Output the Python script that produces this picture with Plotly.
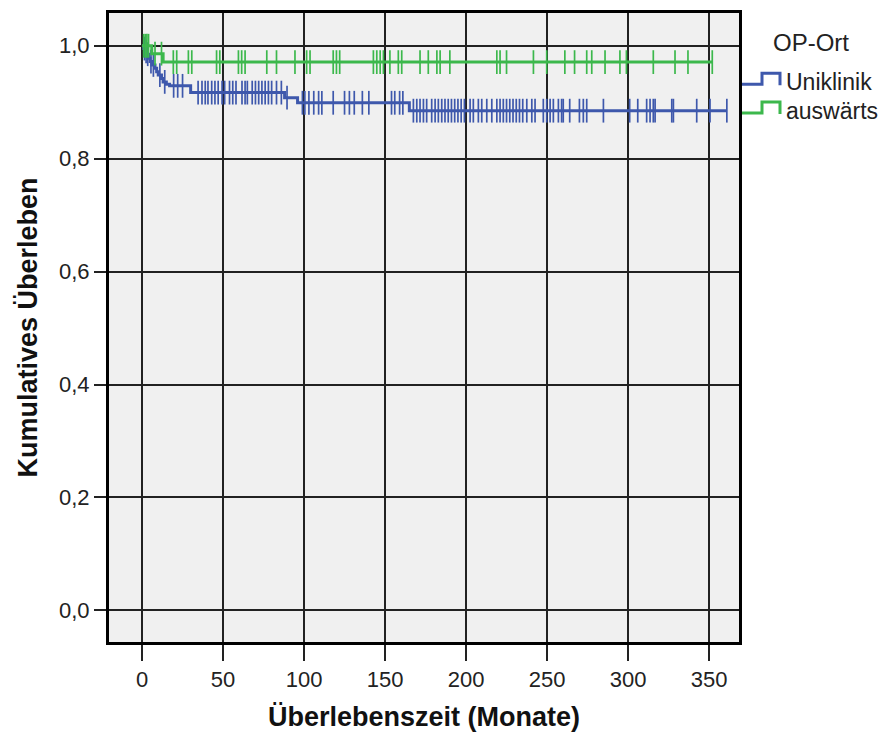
import plotly.graph_objects as go
import numpy as np

# ---------------- data ----------------
# Uniklinik: step function (event times, survival after step)
uni_step_t = [0, 1, 2, 3, 4, 5, 6, 8, 9, 10, 12, 13, 15, 17, 30, 88, 96, 165]
uni_step_s = [1.0, 0.995, 0.990, 0.985, 0.978, 0.972, 0.966, 0.960, 0.954, 0.948,
              0.942, 0.936, 0.932, 0.929, 0.917, 0.908, 0.899, 0.885]
uni_end = 361
uni_censor = [1.5, 2.5, 3.5, 5.5, 7, 11, 14, 19.5, 22, 25, 34.6, 37, 39, 40.7, 43, 45, 47,
              49.4, 51, 54, 56, 58, 61.7, 63.6, 65, 68, 70, 72, 74, 76, 78, 80, 83, 86,
              89.5, 99, 100.5, 103, 106, 109, 111, 118, 125, 128, 131, 136, 140, 154, 156,
              159, 161, 167.5, 169.6, 171.6, 173.7, 175.7, 178.8, 180.9, 182.9, 185, 187,
              189, 191, 193, 195, 197, 199, 202.5, 204.5, 207.6, 209.7, 212.8, 215.9, 219,
              221, 223, 225, 227, 229, 231, 233, 235, 237.5, 240.6, 242.6, 247.7, 249.8,
              251.9, 253.9, 257, 259, 260, 264, 270, 272.4, 274.5, 284.8, 301, 306, 311.5,
              313.6, 315.6, 316.7, 327, 328, 342.4, 350.6, 361]

# auswärts
ext_step_t = [0, 6, 13]
ext_step_s = [1.0, 0.986, 0.971]
ext_end = 352
ext_censor = [1, 2, 3, 4, 8, 12, 19.3, 21.4, 28.6, 30.7, 46, 48, 59.5, 61.5, 63.6, 77, 83,
              94.4, 101.6, 103.7, 118, 120, 122, 142.8, 144.9, 147, 149, 153, 158.2, 160.3,
              171.6, 176.7, 182, 184, 190, 219, 221, 225, 241.6, 249.8, 261, 267, 274.5,
              277.6, 285.8, 295, 299, 315.6, 329, 337, 352]

x_ticks = [0, 50, 100, 150, 200, 250, 300, 350]
y_ticks = [0.0, 0.2, 0.4, 0.6, 0.8, 1.0]
y_ticklabels = ["0,0", "0,2", "0,4", "0,6", "0,8", "1,0"]

groups = ["Uniklinik", "auswärts"]
colors = ["#3e58ac", "#3cb84c"]

FONT = "Liberation Sans, Arial"

# ---------------- helpers ----------------
def surv_at(times, steps_t, steps_s):
    idx = np.searchsorted(np.array(steps_t), np.array(times), side="right") - 1
    return [steps_s[i] for i in idx]

fig = go.Figure()

for name, st, ss, end, cens, col in [
    (groups[0], uni_step_t, uni_step_s, uni_end, uni_censor, colors[0]),
    (groups[1], ext_step_t, ext_step_s, ext_end, ext_censor, colors[1]),
]:
    xs = list(st) + [end]
    ys = list(ss) + [ss[-1]]
    fig.add_trace(go.Scatter(x=xs, y=ys, mode="lines", line=dict(color=col, width=3, shape="hv"),
                             showlegend=False, hoverinfo="skip"))
    fig.add_trace(go.Scatter(x=cens, y=surv_at(cens, st, ss), mode="markers",
                             marker=dict(symbol="line-ns-open", size=17, color=col,
                                         line=dict(color=col, width=1.7)),
                             showlegend=False, hoverinfo="skip"))

W, H = 883, 740
L, R, T, B = 109, 739, 10, 642

def px(x):
    return (x - L) / (R - L)

def py(y):
    return (B - y) / (B - T)

# custom legend (step icons)
shapes = []
annotations = []
for i, (name, col) in enumerate(zip(groups, colors)):
    low = 81.5 + 29 * i
    high = 70.5 + 29 * i
    path = (f"M {px(742)} {py(low)} L {px(762)} {py(low)} L {px(762)} {py(high)} "
            f"L {px(780)} {py(high)} L {px(780)} {py(low + 1)}")
    shapes.append(dict(type="path", xref="paper", yref="paper", path=path,
                       line=dict(color=col, width=3)))
    annotations.append(dict(x=px(784), y=py(79 + 29 * i), xref="paper", yref="paper",
                            text=name, showarrow=False, xanchor="left", yanchor="middle",
                            font=dict(family=FONT, size=23, color="#222")))
annotations.append(dict(x=px(811), y=py(40), xref="paper", yref="paper", text="OP-Ort",
                        showarrow=False, xanchor="center", yanchor="middle",
                        font=dict(family=FONT, size=24, color="#222")))

fig.update_layout(
    width=W, height=H,
    margin=dict(l=L, r=W - R, t=T, b=H - B),
    paper_bgcolor="white",
    plot_bgcolor="#f0f0f0",
    font=dict(family=FONT, size=22, color="#222"),
    shapes=shapes,
    annotations=annotations,
    showlegend=False,
)
fig.update_xaxes(
    range=[-20.4, 368.5], tickvals=x_ticks, ticktext=[str(v) for v in x_ticks],
    showgrid=True, gridcolor="#222222", gridwidth=1.6, zeroline=False,
    showline=True, linecolor="black", linewidth=3, mirror=True,
    ticks="outside", ticklen=16, tickwidth=1.5, tickcolor="#222",
    tickfont=dict(family=FONT, size=22, color="#222"),
    title=dict(text="<b>Überlebenszeit (Monate)</b>", font=dict(family=FONT, size=27, color="#111"),
               standoff=16),
)
fig.update_yaxes(
    range=[-0.056, 1.058], tickvals=y_ticks, ticktext=y_ticklabels,
    showgrid=True, gridcolor="#222222", gridwidth=1.6, zeroline=False,
    showline=True, linecolor="black", linewidth=3, mirror=True,
    ticks="outside", ticklen=12, tickwidth=1.5, tickcolor="#222",
    tickfont=dict(family=FONT, size=22, color="#222"),
    title=dict(text="<b>Kumulatives Überleben</b>", font=dict(family=FONT, size=27, color="#111"),
               standoff=14),
)

fig.write_html("out.html")
